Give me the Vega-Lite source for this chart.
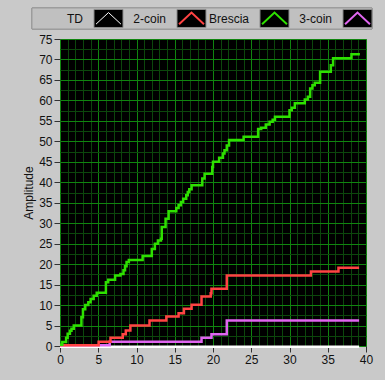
{
  "$schema": "https://vega.github.io/schema/vega-lite/v6.json",
  "background": "#c9c9c9",
  "padding": {"left": 22, "top": 7, "right": 13, "bottom": 14},
  "spacing": 2,
  "config": {"font": "Liberation Sans", "view": {"stroke": null}},
  "vconcat": [
    {
      "width": 312,
      "height": 21,
      "data": {"values": [
        {"label": "TD", "i": 1},
        {"label": "2-coin", "i": 2},
        {"label": "Brescia", "i": 3},
        {"label": "3-coin", "i": 4}
      ]},
      "encoding": {
        "x": {"field": "i", "type": "quantitative", "scale": {"domain": [0.4157, 4.1747], "nice": false, "zero": false}, "axis": null}
      },
      "layer": [
        {"mark": {"type": "rect", "color": "#c0c0c0", "stroke": "#9a9a9a", "strokeWidth": 1},
         "encoding": {"x": {"datum": 0.078, "type": "quantitative"}, "x2": {"datum": 4.1747}}},
        {"mark": {"type": "point", "shape": "M-1,-0.62H1V0.62H-1Z", "size": 841, "filled": true, "color": "#000000", "stroke": "#8c8c8c", "strokeWidth": 1, "opacity": 1}},
        {"mark": {"type": "point", "shape": "M-0.86,0.39L0,-0.41L0.86,0.39", "size": 841, "filled": false, "opacity": 1},
         "encoding": {
           "color": {"field": "label", "type": "nominal", "scale": {"domain": ["TD", "2-coin", "Brescia", "3-coin"], "range": ["#ffffff", "#ff4343", "#2ee000", "#e066f0"]}, "legend": null},
           "strokeWidth": {"condition": {"test": "datum.label === 'TD'", "value": 1}, "value": 2}
         }},
        {"mark": {"type": "text", "align": "right", "baseline": "middle", "dx": -25.5, "fontSize": 12, "color": "#111111"},
         "encoding": {"text": {"field": "label"}}}
      ]
    },
    {
      "width": 306,
      "height": 307,
      "view": {"fill": "#000000", "stroke": "#7a7a7a"},
      "data": {"values": [
        {"s": "TD", "x": 0, "y": -0.2}, {"s": "TD", "x": 39.1, "y": -0.2},
        {"s": "3-coin", "x": 0, "y": 0.2}, {"s": "3-coin", "x": 6.5, "y": 1.05}, {"s": "3-coin", "x": 18.5, "y": 2.0}, {"s": "3-coin", "x": 19.8, "y": 2.9}, {"s": "3-coin", "x": 21.8, "y": 6.2}, {"s": "3-coin", "x": 39.1, "y": 6.2},
        {"s": "2-coin", "x": 0, "y": 0.2}, {"s": "2-coin", "x": 5.05, "y": 1.05}, {"s": "2-coin", "x": 6.6, "y": 2.0}, {"s": "2-coin", "x": 8.2, "y": 2.9}, {"s": "2-coin", "x": 8.6, "y": 3.8}, {"s": "2-coin", "x": 9.2, "y": 5.0}, {"s": "2-coin", "x": 11.7, "y": 6.2}, {"s": "2-coin", "x": 13.9, "y": 7.2}, {"s": "2-coin", "x": 15.5, "y": 8.0}, {"s": "2-coin", "x": 16.2, "y": 9.1}, {"s": "2-coin", "x": 17.2, "y": 10.1}, {"s": "2-coin", "x": 18.5, "y": 12.1}, {"s": "2-coin", "x": 19.7, "y": 12.9}, {"s": "2-coin", "x": 19.8, "y": 14.0}, {"s": "2-coin", "x": 21.8, "y": 17.2}, {"s": "2-coin", "x": 32.8, "y": 18.2}, {"s": "2-coin", "x": 36.4, "y": 19.1}, {"s": "2-coin", "x": 39.1, "y": 19.1},
        {"s": "Brescia", "x": 0, "y": 0.3}, {"s": "Brescia", "x": 0.3, "y": 1}, {"s": "Brescia", "x": 0.8, "y": 2}, {"s": "Brescia", "x": 1.0, "y": 3}, {"s": "Brescia", "x": 1.3, "y": 3.7}, {"s": "Brescia", "x": 1.5, "y": 4.2}, {"s": "Brescia", "x": 1.8, "y": 5}, {"s": "Brescia", "x": 2.8, "y": 7}, {"s": "Brescia", "x": 3.0, "y": 9}, {"s": "Brescia", "x": 3.3, "y": 10}, {"s": "Brescia", "x": 3.7, "y": 10.7}, {"s": "Brescia", "x": 4.0, "y": 11.5}, {"s": "Brescia", "x": 4.4, "y": 12.3}, {"s": "Brescia", "x": 4.8, "y": 13}, {"s": "Brescia", "x": 6.0, "y": 15.6}, {"s": "Brescia", "x": 6.3, "y": 16.2}, {"s": "Brescia", "x": 7.2, "y": 17.2}, {"s": "Brescia", "x": 7.9, "y": 17.6}, {"s": "Brescia", "x": 8.3, "y": 18.5}, {"s": "Brescia", "x": 8.5, "y": 19.5}, {"s": "Brescia", "x": 8.7, "y": 20.5}, {"s": "Brescia", "x": 9.0, "y": 21}, {"s": "Brescia", "x": 10.8, "y": 22}, {"s": "Brescia", "x": 12.0, "y": 23.7}, {"s": "Brescia", "x": 12.4, "y": 25}, {"s": "Brescia", "x": 12.8, "y": 25.8}, {"s": "Brescia", "x": 13.2, "y": 26.2}, {"s": "Brescia", "x": 13.3, "y": 29.1}, {"s": "Brescia", "x": 13.8, "y": 31.1}, {"s": "Brescia", "x": 14.2, "y": 32.9}, {"s": "Brescia", "x": 15.2, "y": 33.7}, {"s": "Brescia", "x": 15.5, "y": 34.4}, {"s": "Brescia", "x": 15.8, "y": 35.2}, {"s": "Brescia", "x": 16.1, "y": 36}, {"s": "Brescia", "x": 16.5, "y": 36.8}, {"s": "Brescia", "x": 16.7, "y": 37.6}, {"s": "Brescia", "x": 16.9, "y": 38.3}, {"s": "Brescia", "x": 17.2, "y": 39.3}, {"s": "Brescia", "x": 18.6, "y": 40.9}, {"s": "Brescia", "x": 18.9, "y": 42.1}, {"s": "Brescia", "x": 19.9, "y": 43.7}, {"s": "Brescia", "x": 20.0, "y": 45}, {"s": "Brescia", "x": 20.8, "y": 46}, {"s": "Brescia", "x": 21.3, "y": 47}, {"s": "Brescia", "x": 21.5, "y": 47.8}, {"s": "Brescia", "x": 21.8, "y": 49}, {"s": "Brescia", "x": 22.1, "y": 50.3}, {"s": "Brescia", "x": 24.0, "y": 51.1}, {"s": "Brescia", "x": 25.9, "y": 53}, {"s": "Brescia", "x": 26.3, "y": 53.3}, {"s": "Brescia", "x": 26.9, "y": 54.1}, {"s": "Brescia", "x": 27.4, "y": 54.8}, {"s": "Brescia", "x": 27.8, "y": 55.3}, {"s": "Brescia", "x": 28.1, "y": 56}, {"s": "Brescia", "x": 30.0, "y": 57.6}, {"s": "Brescia", "x": 30.3, "y": 58.2}, {"s": "Brescia", "x": 30.7, "y": 59.3}, {"s": "Brescia", "x": 32.0, "y": 60.2}, {"s": "Brescia", "x": 32.4, "y": 60.9}, {"s": "Brescia", "x": 32.7, "y": 62.9}, {"s": "Brescia", "x": 33.0, "y": 63.7}, {"s": "Brescia", "x": 33.3, "y": 64.3}, {"s": "Brescia", "x": 34.0, "y": 67}, {"s": "Brescia", "x": 35.4, "y": 68.6}, {"s": "Brescia", "x": 35.7, "y": 70.3}, {"s": "Brescia", "x": 38.1, "y": 71.3}, {"s": "Brescia", "x": 39.2, "y": 71.3}
      ]},
      "resolve": {"axis": {"x": "independent", "y": "independent"}},
      "layer": [
        {
          "mark": {"type": "line", "strokeOpacity": 0},
          "encoding": {
            "x": {"field": "x", "type": "quantitative", "scale": {"domain": [0, 40], "nice": false, "zero": false},
                  "axis": {"orient": "top", "values": [1,2,3,4,6,7,8,9,11,12,13,14,16,17,18,19,21,22,23,24,26,27,28,29,31,32,33,34,36,37,38,39], "grid": true, "gridColor": "#0c470c", "gridOpacity": 1, "labels": false, "ticks": false, "domain": false, "title": null}},
            "y": {"field": "y", "type": "quantitative", "scale": {"domain": [0, 75], "nice": false, "zero": false},
                  "axis": {"orient": "right", "values": [2.5,7.5,12.5,17.5,22.5,27.5,32.5,37.5,42.5,47.5,52.5,57.5,62.5,67.5,72.5], "grid": true, "gridColor": "#0c470c", "gridOpacity": 1, "labels": false, "ticks": false, "domain": false, "title": null}},
            "detail": {"field": "s"}
          }
        },
        {
          "transform": [{"filter": "datum.s === 'TD'"}],
          "mark": {"type": "line", "interpolate": "step-after", "strokeWidth": 2.5},
          "encoding": {
            "x": {"field": "x", "type": "quantitative",
                  "axis": {"orient": "bottom", "values": [0,5,10,15,20,25,30,35,40], "grid": true, "gridColor": "#10850f", "gridOpacity": 1, "tickSize": 6, "tickColor": "#333333", "labelPadding": 2, "labelFontSize": 12, "labelColor": "#111111", "labelFlush": false, "domain": false, "title": null}},
            "y": {"field": "y", "type": "quantitative",
                  "axis": {"orient": "left", "values": [0,5,10,15,20,25,30,35,40,45,50,55,60,65,70,75], "grid": true, "gridColor": "#10850f", "gridOpacity": 1, "tickSize": 6, "tickColor": "#333333", "labelPadding": 2, "labelFontSize": 12, "labelColor": "#111111", "domain": false, "title": "Amplitude", "titleFontSize": 12, "titleFontWeight": "normal", "titleColor": "#111111", "titlePadding": 3}},
            "color": {"field": "s", "type": "nominal", "scale": {"domain": ["TD", "2-coin", "Brescia", "3-coin"], "range": ["#ffffff", "#ff4343", "#2ee000", "#e066f0"]}, "legend": null}
          }
        },
        {
          "transform": [{"filter": "datum.s === '3-coin'"}],
          "mark": {"type": "line", "interpolate": "step-after", "strokeWidth": 2.5},
          "encoding": {
            "x": {"field": "x", "type": "quantitative", "axis": null},
            "y": {"field": "y", "type": "quantitative", "axis": null},
            "color": {"field": "s", "type": "nominal", "legend": null}
          }
        },
        {
          "transform": [{"filter": "datum.s === '2-coin'"}],
          "mark": {"type": "line", "interpolate": "step-after", "strokeWidth": 2.5},
          "encoding": {
            "x": {"field": "x", "type": "quantitative", "axis": null},
            "y": {"field": "y", "type": "quantitative", "axis": null},
            "color": {"field": "s", "type": "nominal", "legend": null}
          }
        },
        {
          "transform": [{"filter": "datum.s === 'Brescia'"}],
          "mark": {"type": "line", "interpolate": "step-after", "strokeWidth": 2.5},
          "encoding": {
            "x": {"field": "x", "type": "quantitative", "axis": null},
            "y": {"field": "y", "type": "quantitative", "axis": null},
            "color": {"field": "s", "type": "nominal", "legend": null}
          }
        }
      ]
    }
  ]
}
